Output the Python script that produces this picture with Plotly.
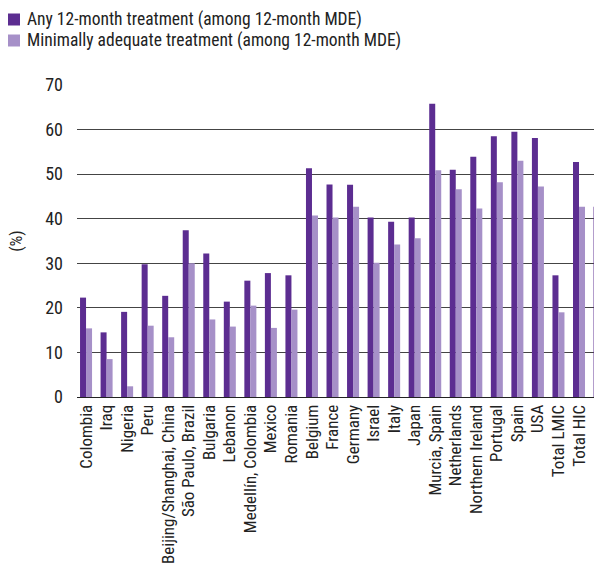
import plotly.graph_objects as go

# Treatment rates among people with 12-month major depressive episode (%)
categories = [
    "Colombia", "Iraq", "Nigeria", "Peru", "Beijing/Shanghai, China",
    "São Paulo, Brazil", "Bulgaria", "Lebanon", "Medellín, Colombia", "Mexico",
    "Romania", "Belgium", "France", "Germany", "Israel", "Italy", "Japan",
    "Murcia, Spain", "Netherlands", "Northern Ireland", "Portugal", "Spain",
    "USA", "Total LMIC", "Total HIC", "Total",
]
any_treatment = [
    22.3, 14.5, 19.1, 29.8, 22.7, 37.4, 32.2, 21.4, 26.1, 27.8,
    27.3, 51.3, 47.7, 47.6, 40.3, 39.3, 40.3, 65.8, 51.0, 53.9,
    58.5, 59.5, 58.1, 27.3, 52.7, 42.7,
]
adequate_treatment = [
    15.4, 8.5, 2.4, 16.0, 13.4, 30.0, 17.4, 15.8, 20.5, 15.5,
    19.6, 40.7, 40.3, 42.7, 30.1, 34.2, 35.6, 50.9, 46.6, 42.3,
    48.2, 53.0, 47.2, 19.0, 42.7, 33.0,
]
y_ticks = [0, 10, 20, 30, 40, 50, 60, 70]

DARK = "#5c2d91"
LIGHT = "#a690c8"
FONT = "Liberation Sans Narrow, Roboto Condensed, Arial Narrow, Liberation Sans, sans-serif"
TEXT = "#222"

W, H = 594, 569
ML, MR, MT, MB = 77, 0, 85, 172

fig = go.Figure()
series = [
    ("Any 12-month treatment (among 12-month MDE)", any_treatment, DARK),
    ("Minimally adequate treatment (among 12-month MDE)", adequate_treatment, LIGHT),
]
for name, values, color in series:
    fig.add_trace(go.Bar(
        x=categories, y=values, name=name, showlegend=False,
        marker=dict(color=color, line=dict(width=0)),
    ))

# Legend block in the top-left corner: colour square + series name
for i, (name, _, color) in enumerate(series):
    yc = 19.5 + 21 * i  # pixel centre of the row, from the top
    fig.add_shape(
        type="rect", xref="paper", yref="paper",
        x0=(8 - ML) / (W - ML - MR), x1=(20 - ML) / (W - ML - MR),
        y0=1 + (MT - yc - 6) / (H - MT - MB), y1=1 + (MT - yc + 6) / (H - MT - MB),
        fillcolor=color, line=dict(width=0),
    )
    fig.add_annotation(
        text=name, xref="paper", yref="paper", showarrow=False,
        x=(25 - ML) / (W - ML - MR), y=1 + (MT - yc) / (H - MT - MB),
        xanchor="left", yanchor="middle",
        font=dict(family=FONT, size=17.5, color=TEXT),
    )

fig.update_layout(
    width=W, height=H,
    margin=dict(l=ML, r=MR, t=MT, b=MB, autoexpand=False),
    paper_bgcolor="white", plot_bgcolor="white",
    barmode="group", bargap=0.415, bargroupgap=0,
    font=dict(family=FONT, size=17, color=TEXT),
    showlegend=False,
    xaxis=dict(
        type="category", range=[-0.44, 24.73],
        tickmode="array", tickvals=categories, ticktext=categories,
        tickangle=-90, showgrid=False, ticks="", automargin=False,
        showline=True, linecolor=TEXT, linewidth=1,
        tickfont=dict(family=FONT, size=17, color=TEXT),
    ),
    yaxis=dict(
        range=[0, 70], tickvals=y_ticks, showgrid=True, automargin=False,
        gridcolor="#444", gridwidth=1, zeroline=False, ticks="",
        showline=False, ticklabelstandoff=13,
        tickfont=dict(family=FONT, size=18, color=TEXT),
        title=dict(text="(%)", standoff=18,
                   font=dict(family=FONT, size=17, color=TEXT)),
    ),
)

fig.write_html("out.html")
